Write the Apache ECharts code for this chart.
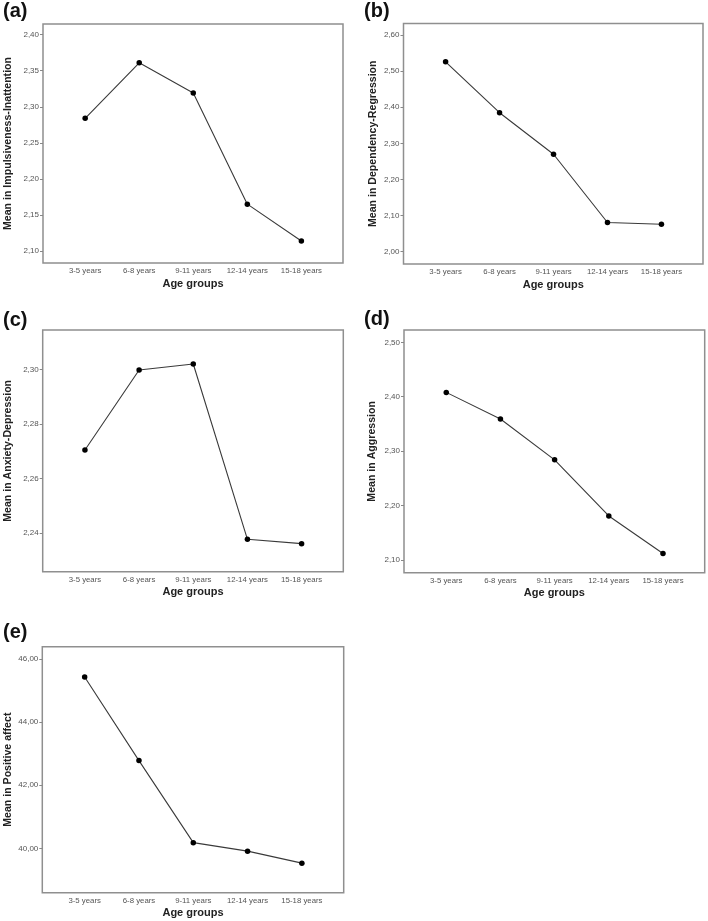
<!DOCTYPE html>
<html><head><meta charset="utf-8">
<script src="https://cdn.jsdelivr.net/npm/echarts@6/dist/echarts.min.js"></script>
<style>html,body{margin:0;padding:0;background:#fff}#c{width:708px;height:921px}</style>
</head><body><div id="c"></div>
<script>
const categories = ['3-5 years', '6-8 years', '9-11 years', '12-14 years', '15-18 years'];

const impulsiveness = [2.284, 2.361, 2.319, 2.165, 2.114];
const dependency = [2.526, 2.385, 2.270, 2.081, 2.076];
const anxiety = [2.2704, 2.2998, 2.3020, 2.2376, 2.2360];
const aggression = [2.408, 2.359, 2.284, 2.181, 2.112];
const positiveAffect = [45.43, 42.78, 40.18, 39.91, 39.53];

const ticksA = [2.10, 2.15, 2.20, 2.25, 2.30, 2.35, 2.40];
const ticksB = [2.00, 2.10, 2.20, 2.30, 2.40, 2.50, 2.60];
const ticksC = [2.24, 2.26, 2.28, 2.30];
const ticksD = [2.10, 2.20, 2.30, 2.40, 2.50];
const ticksE = [40, 42, 44, 46];

const panelLabels = ['(a)', '(b)', '(c)', '(d)', '(e)'];
const yTitles = ['Mean in Impulsiveness-Inattention', 'Mean in Dependency-Regression',
  'Mean in Anxiety-Depression', 'Mean in Aggression', 'Mean in Positive affect'];
const xTitle = 'Age groups';

const panels = [
  {values: impulsiveness, ticks: ticksA, min: 2.0834, max: 2.4148,
   grid: {left: 43, top: 24, width: 300, height: 239}, nameGap: 29, label: [3, 1]},
  {values: dependency, ticks: ticksB, min: 1.966, max: 2.632,
   grid: {left: 403.5, top: 23.5, width: 299.5, height: 240.5}, nameGap: 25, label: [364, 1]},
  {values: anxiety, ticks: ticksC, min: 2.2257, max: 2.3145,
   grid: {left: 42.7, top: 330, width: 300.6, height: 241.7}, nameGap: 29, label: [3, 310]},
  {values: aggression, ticks: ticksD, min: 2.0767, max: 2.5226,
   grid: {left: 404, top: 330, width: 300.7, height: 242.7}, nameGap: 26, label: [364, 309]},
  {values: positiveAffect, ticks: ticksE, min: 38.593, max: 46.39,
   grid: {left: 42.3, top: 646.7, width: 301.4, height: 246}, nameGap: 28.5, label: [3, 622]}
];

const FONT = '"Liberation Sans", Arial, Helvetica, sans-serif';
const grids = [], xAxes = [], yAxes = [], series = [], titles = [];
panels.forEach((p, i) => {
  grids.push(Object.assign({show: true, borderColor: '#8f8f8f', borderWidth: 1.5, backgroundColor: '#fff'}, p.grid));
  xAxes.push({
    type: 'value', gridIndex: i, min: -0.78, max: 4.77, position: 'bottom',
    splitLine: {show: false}, axisLine: {show: false, onZero: false}, axisTick: {show: false},
    axisLabel: {customValues: [0, 1, 2, 3, 4], formatter: v => categories[Math.round(v)],
      fontSize: 7.8, color: '#555', fontFamily: FONT, margin: 4},
    name: xTitle, nameLocation: 'middle', nameGap: 15,
    nameTextStyle: {fontSize: 11, fontWeight: 'bold', color: '#222', fontFamily: FONT}
  });
  yAxes.push({
    type: 'value', gridIndex: i, min: p.min, max: p.max, position: 'left',
    splitLine: {show: false}, axisLine: {show: false, onZero: false},
    axisTick: {show: true, customValues: p.ticks, length: 3, lineStyle: {color: '#888', width: 1}},
    axisLabel: {customValues: p.ticks, formatter: v => v.toFixed(2).replace('.', ','),
      fontSize: 8, color: '#555', fontFamily: FONT, margin: 4},
    name: yTitles[i], nameLocation: 'middle', nameGap: p.nameGap, nameRotate: 90,
    nameTextStyle: {fontSize: 10.6, fontWeight: 'bold', color: '#222', fontFamily: FONT}
  });
  series.push({
    type: 'line', xAxisIndex: i, yAxisIndex: i,
    data: p.values.map((v, k) => [k, v]),
    symbol: 'circle', symbolSize: 5.5,
    itemStyle: {color: '#000'}, lineStyle: {color: '#3a3a3a', width: 1.1},
    animation: false
  });
  titles.push({text: panelLabels[i], left: p.label[0], top: p.label[1], padding: 0,
    textStyle: {fontSize: 20, fontWeight: 'bold', color: '#111', fontFamily: FONT}});
});

const chart = echarts.init(document.getElementById('c'), null, {renderer: 'canvas'});
chart.setOption({animation: false, title: titles, grid: grids, xAxis: xAxes, yAxis: yAxes, series: series});
</script></body></html>
